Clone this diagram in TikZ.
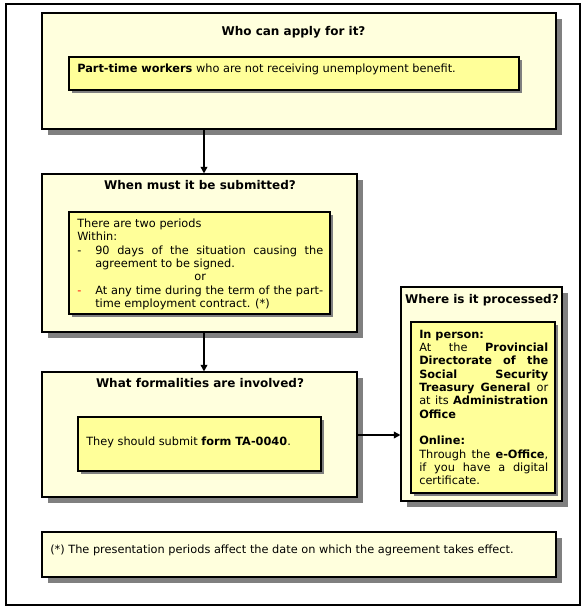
\documentclass[tikz,border=0pt]{standalone}
\usepackage{fontspec}
\setmainfont{DejaVu Sans}
\usetikzlibrary{arrows.meta,shadows}
\definecolor{outerfill}{RGB}{255,255,221}
\definecolor{innerfill}{RGB}{255,255,153}
\definecolor{shadowgray}{RGB}{128,128,128}
\tikzset{
 outerbox/.style={draw=black, line width=0.8pt, fill=outerfill, inner sep=0pt,
   drop shadow={shadow xshift=4.5pt, shadow yshift=-4.5pt, fill=shadowgray, opacity=1}},
 innerbox/.style={draw=black, line width=0.8pt, fill=innerfill, inner sep=0pt,
   drop shadow={shadow xshift=2.25pt, shadow yshift=-2.25pt, fill=shadowgray, opacity=1}},
 titletext/.style={font=\fontsize{9}{11}\selectfont\bfseries, inner sep=0pt},
 bodytext/.style={font=\fontsize{8.5}{10}\selectfont, inner sep=0pt},
 arr/.style={line width=1.5pt, -{Triangle[length=5pt,width=5pt]}},
 frame/.style={draw=black, line width=0.8pt},
}
\newcommand\jsp{\hskip 0pt plus 1fil\relax}
\begin{document}
\begin{tikzpicture}[x=0.75pt,y=-0.75pt]
\useasboundingbox (0,0) rectangle (586,611);
\draw[frame] (6,4) rectangle (580,605);

% box 1
\node[outerbox, minimum width=385.5pt, minimum height=87pt] (box1) at (299,71) {};
\node[titletext] (t1) at (293.5,32) {Who can apply for it?};
\node[innerbox, minimum width=337.5pt, minimum height=24.75pt] (in1) at (294,73.5) {};
\node[bodytext, anchor=west] (x1) at (77,69.5) {\textbf{Part-time workers} who are not receiving unemployment benefit.};

% box 2
\node[outerbox, minimum width=236.25pt, minimum height=118.5pt] (box2) at (199.5,253) {};
\node[titletext] (t2) at (200,185.5) {When must it be submitted?};
\node[innerbox, minimum width=195.75pt, minimum height=76.5pt] (in2) at (199.5,263) {};
\node[bodytext, anchor=north west, align=left] (x2) at (77,218.5) {%
There are two periods\\
Within:\\
\hbox to 184.5pt{\hbox to 13.5pt{-\hss}90\jsp days\jsp of\jsp the\jsp situation\jsp causing\jsp the}\\
\hbox to 184.5pt{\hskip 13.5pt agreement to be signed.\hss}\\
\hbox to 184.5pt{\hss or\hss}\\
\hbox to 184.5pt{\hbox to 13.5pt{\textcolor{red}{-}\hss}At\jsp any\jsp time\jsp during\jsp the\jsp term\jsp of\jsp the\jsp part-}\\
\hbox to 184.5pt{\hskip 13.5pt time employment contract. (*)\hss}};

% box 3
\node[outerbox, minimum width=236.25pt, minimum height=93.75pt] (box3) at (199.5,434.5) {};
\node[titletext] (t3) at (200,383.5) {What formalities are involved?};
\node[innerbox, minimum width=182.25pt, minimum height=40.5pt] (in3) at (199.5,444) {};
\node[bodytext, anchor=west] (x3) at (86,442) {They should submit \textbf{form TA-0040}.};

% box 4
\node[outerbox, minimum width=120.75pt, minimum height=160.5pt] (box4) at (481.5,394) {};
\node[titletext] (t4) at (482,300) {Where is it processed?};
\node[innerbox, minimum width=108pt, minimum height=128.25pt] (in4) at (483,407.5) {};
\node[bodytext, anchor=north west, align=left] (x4) at (419,329.5) {%
\textbf{In person:}\\
\hbox to 96.75pt{At\jsp the\jsp \textbf{Provincial}}\\
\hbox to 96.75pt{\textbf{Directorate}\jsp\textbf{of}\jsp\textbf{the}}\\
\hbox to 96.75pt{\textbf{Social}\jsp\textbf{Security}}\\
\hbox to 96.75pt{\textbf{Treasury}\jsp\textbf{General}\jsp or}\\
\hbox to 96.75pt{at\jsp its\jsp\textbf{Administration}}\\
\textbf{Office}\\
\mbox{}\\
\textbf{Online:}\\
\hbox to 96.75pt{Through\jsp the\jsp\textbf{e-Office},}\\
\hbox to 96.75pt{if\jsp you\jsp have\jsp a\jsp digital}\\
certificate.};

% footnote
\node[outerbox, minimum width=385.5pt, minimum height=33.75pt] (foot) at (299,554.5) {};
\node[bodytext, anchor=west] (x5) at (50,550) {(*) The presentation periods affect the date on which the agreement takes effect.};

% connectors
\coordinate (ax) at (204,0);
\coordinate (ay) at (0,435);
\draw[arr] (box1.south -| ax) -- (box2.north -| ax);
\draw[arr] (box2.south -| ax) -- (box3.north -| ax);
\draw[arr] (box3.east |- ay) -- (box4.west |- ay);
\end{tikzpicture}
\end{document}
